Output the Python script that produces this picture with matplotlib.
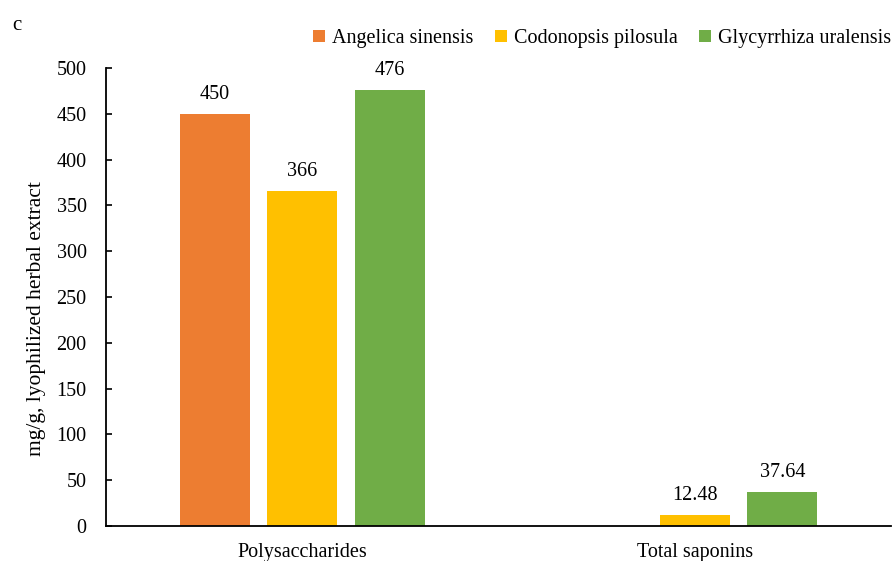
import numpy as np
import matplotlib.pyplot as plt

plt.rcParams['font.family'] = ['Liberation Serif', 'DejaVu Serif']

# data
categories = ["Polysaccharides", "Total saponins"]
series_names = ["Angelica sinensis", "Codonopsis pilosula", "Glycyrrhiza uralensis"]
angelica = [450, 0]
codonopsis = [366, 12.48]
glycyrrhiza = [476, 37.64]
value_labels = [["450", None], ["366", "12.48"], ["476", "37.64"]]
colors = ['#ED7D31', '#FFC000', '#70AD47']

fig = plt.figure(figsize=(8.96, 5.61), dpi=100)
ax = fig.add_axes([0.1183, 0.0624, 0.8761, 0.8164])

x = np.arange(len(categories))
width = 0.178
step = 0.223
series = [angelica, codonopsis, glycyrrhiza]
for i, (vals, name, col) in enumerate(zip(series, series_names, colors)):
    pos = x + (i - 1) * step
    bars = ax.bar(pos, vals, width=width, color=col, label=name)
    for b, lab in zip(bars, value_labels[i]):
        if lab is None:
            continue
        ax.annotate(lab, (b.get_x() + b.get_width() / 2, b.get_height()),
                    xytext=(0, 7), textcoords='offset points',
                    ha='center', va='bottom', fontsize=14.5)

ax.set_xlim(-0.5, 1.5)
ax.set_ylim(0, 500)
ax.set_yticks(np.arange(0, 501, 50))
ax.set_xticks(x)
ax.set_xticklabels(categories, fontsize=14.5)
ax.tick_params(axis='y', direction='in', length=4, width=1.2, labelsize=14.5, pad=14)
ax.tick_params(axis='x', length=0, pad=12)
for s in ['top', 'right']:
    ax.spines[s].set_visible(False)
ax.spines['left'].set_linewidth(1.3)
ax.spines['bottom'].set_linewidth(1.3)
ax.set_ylabel("mg/g, lyophilized herbal extract", fontsize=15.5)
ax.yaxis.set_label_coords(-0.077, 0.452)

ax.legend(loc='center right', bbox_to_anchor=(1.0, 1.064), ncol=3, frameon=False,
          fontsize=14.5, handlelength=0.6, handleheight=0.6, handletextpad=0.35,
          columnspacing=1.05, borderaxespad=0, borderpad=0)

fig.text(0.014, 0.955, "c", fontsize=15, va='center')

fig.savefig("out.png", dpi=100)
